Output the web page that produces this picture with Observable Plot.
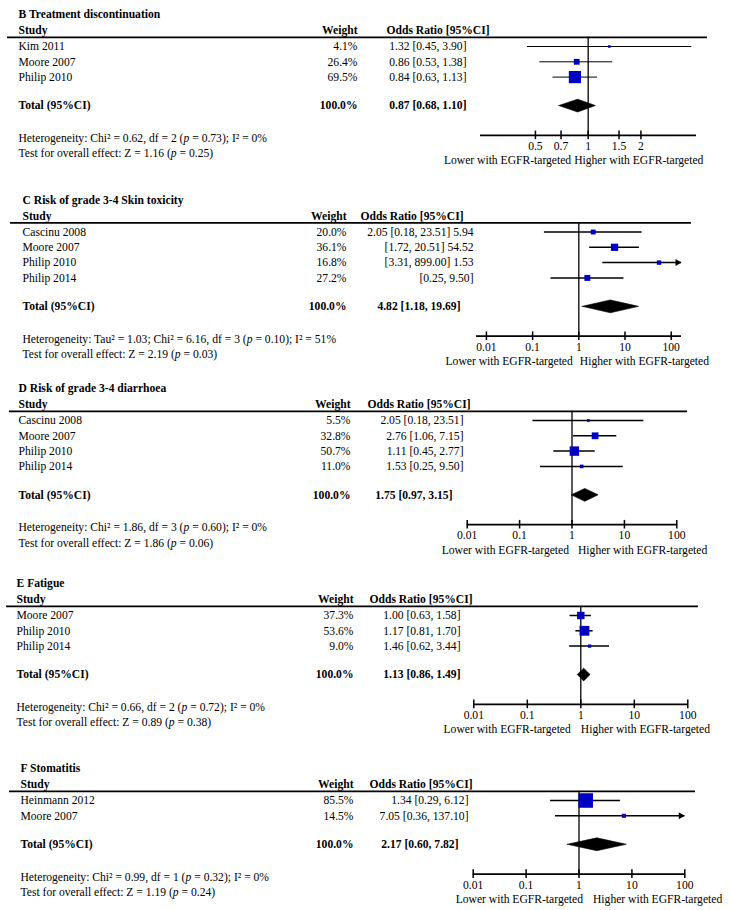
<!DOCTYPE html>
<html>
<head>
<meta charset="utf-8">
<script src="https://cdn.jsdelivr.net/npm/d3@7"></script>
<script src="https://cdn.jsdelivr.net/npm/@observablehq/plot@0.6"></script>
<style>
  html, body { margin: 0; padding: 0; background: #fff; }
  #chart { width: 729px; }
  #chart svg { display: block; }
</style>
</head>
<body>
<div id="chart"></div>
<script>
// ---------- Panel B ----------
const bTitle = "B Treatment discontinuation";
const bStudies = ["Kim 2011", "Moore 2007", "Philip 2010"];
const bWeights = [4.1, 26.4, 69.5];
const bOR = [1.32, 0.86, 0.84];
const bLo = [0.45, 0.53, 0.63];
const bHi = [3.90, 1.38, 1.13];
const bORText = ["1.32 [0.45, 3.90]", "0.86 [0.53, 1.38]", "0.84 [0.63, 1.13]"];
const bTotal = [0.87, 0.68, 1.10];
const bTotalText = "0.87 [0.68, 1.10]";
const bHet = "Heterogeneity: Chi\u00b2 = 0.62, df = 2 (p = 0.73); I\u00b2 = 0%";
const bTest = "Test for overall effect: Z = 1.16 (p = 0.25)";
const bTicks = [0.5, 0.7, 1, 1.5, 2];
const bTickLabels = ["0.5", "0.7", "1", "1.5", "2"];

// ---------- Panel C ----------
const cTitle = "C Risk of grade 3-4 Skin toxicity";
const cStudies = ["Cascinu 2008", "Moore 2007", "Philip 2010", "Philip 2014"];
const cWeights = [20.0, 36.1, 16.8, 27.2];
const cOR = [2.05, 5.94, 54.52, 1.53];
const cLo = [0.18, 1.72, 3.31, 0.25];
const cHi = [23.51, 20.51, 899.00, 9.50];
const cORText = ["2.05 [0.18, 23.51] 5.94", "[1.72, 20.51] 54.52", "[3.31, 899.00] 1.53", "[0.25, 9.50]"];
const cTotal = [4.82, 1.18, 19.69];
const cTotalText = "4.82 [1.18, 19.69]";
const cHet = "Heterogeneity: Tau\u00b2 = 1.03; Chi\u00b2 = 6.16, df = 3 (p = 0.10); I\u00b2 = 51%";
const cTest = "Test for overall effect: Z = 2.19 (p = 0.03)";
const cTicks = [0.01, 0.1, 1, 10, 100];
const cTickLabels = ["0.01", "0.1", "1", "10", "100"];

// ---------- Panel D ----------
const dTitle = "D Risk of grade 3-4 diarrhoea";
const dStudies = ["Cascinu 2008", "Moore 2007", "Philip 2010", "Philip 2014"];
const dWeights = [5.5, 32.8, 50.7, 11.0];
const dOR = [2.05, 2.76, 1.11, 1.53];
const dLo = [0.18, 1.06, 0.45, 0.25];
const dHi = [23.51, 7.15, 2.77, 9.50];
const dORText = ["2.05 [0.18, 23.51]", "2.76 [1.06, 7.15]", "1.11 [0.45, 2.77]", "1.53 [0.25, 9.50]"];
const dTotal = [1.75, 0.97, 3.15];
const dTotalText = "1.75 [0.97, 3.15]";
const dHet = "Heterogeneity: Chi\u00b2 = 1.86, df = 3 (p = 0.60); I\u00b2 = 0%";
const dTest = "Test for overall effect: Z = 1.86 (p = 0.06)";
const dTicks = [0.01, 0.1, 1, 10, 100];
const dTickLabels = ["0.01", "0.1", "1", "10", "100"];

// ---------- Panel E ----------
const eTitle = "E Fatigue";
const eStudies = ["Moore 2007", "Philip 2010", "Philip 2014"];
const eWeights = [37.3, 53.6, 9.0];
const eOR = [1.00, 1.17, 1.46];
const eLo = [0.63, 0.81, 0.62];
const eHi = [1.58, 1.70, 3.44];
const eORText = ["1.00 [0.63, 1.58]", "1.17 [0.81, 1.70]", "1.46 [0.62, 3.44]"];
const eTotal = [1.13, 0.86, 1.49];
const eTotalText = "1.13 [0.86, 1.49]";
const eHet = "Heterogeneity: Chi\u00b2 = 0.66, df = 2 (p = 0.72); I\u00b2 = 0%";
const eTest = "Test for overall effect: Z = 0.89 (p = 0.38)";
const eTicks = [0.01, 0.1, 1, 10, 100];
const eTickLabels = ["0.01", "0.1", "1", "10", "100"];

// ---------- Panel F ----------
const fTitle = "F Stomatitis";
const fStudies = ["Heinmann 2012", "Moore 2007"];
const fWeights = [85.5, 14.5];
const fOR = [1.34, 7.05];
const fLo = [0.29, 0.36];
const fHi = [6.12, 137.10];
const fORText = ["1.34 [0.29, 6.12]", "7.05 [0.36, 137.10]"];
const fTotal = [2.17, 0.60, 7.82];
const fTotalText = "2.17 [0.60, 7.82]";
const fHet = "Heterogeneity: Chi\u00b2 = 0.99, df = 1 (p = 0.32); I\u00b2 = 0%";
const fTest = "Test for overall effect: Z = 1.19 (p = 0.24)";
const fTicks = [0.01, 0.1, 1, 10, 100];
const fTickLabels = ["0.01", "0.1", "1", "10", "100"];

const lowerLabel = "Lower with EGFR-targeted";
const higherLabel = "Higher with EGFR-targeted";

// ---------- layout (pixels / styles only) ----------
const ROW = 15.3;
const FONT = "'Liberation Serif', 'Times New Roman', serif";
const FS = 11.6;
const SQUARE = "#0000c0";

const panels = [
  {title: bTitle, studies: bStudies, weights: bWeights, or: bOR, lo: bLo, hi: bHi, orText: bORText,
   total: bTotal, totalText: bTotalText, het: bHet, test: bTest, ticks: bTicks, tickLabels: bTickLabels,
   top: 0, height: 184, row0: 46, nameX: 18, lineX: [7, 707], wEnd: 357, orHead: 386, orEnd: 466, totEnd: 466,
   xDomain: [0.243, 4.15], xRange: [480, 696], ciW: 1, lowDx: -17, highDx: -14},
  {title: cTitle, studies: cStudies, weights: cWeights, or: cOR, lo: cLo, hi: cHi, orText: cORText,
   total: cTotal, totalText: cTotalText, het: cHet, test: cTest, ticks: cTicks, tickLabels: cTickLabels,
   top: 184, height: 190, row0: 231.5, nameX: 22, lineX: [10, 691], wEnd: 346, orHead: 360, orEnd: 473, totEnd: 460,
   xDomain: [0.0061, 167], xRange: [476, 681], ciW: 1.5, lowDx: -6, highDx: 1},
  {title: dTitle, studies: dStudies, weights: dWeights, or: dOR, lo: dLo, hi: dHi, orText: dORText,
   total: dTotal, totalText: dTotalText, het: dHet, test: dTest, ticks: dTicks, tickLabels: dTickLabels,
   top: 374, height: 192, row0: 420, nameX: 18, lineX: [9, 687], wEnd: 350, orHead: 367, orEnd: 463, totEnd: 452,
   xDomain: [0.01, 100], xRange: [466.7, 676.3], ciW: 1.5, lowDx: -3, highDx: 6},
  {title: eTitle, studies: eStudies, weights: eWeights, or: eOR, lo: eLo, hi: eHi, orText: eORText,
   total: eTotal, totalText: eTotalText, het: eHet, test: eTest, ticks: eTicks, tickLabels: eTickLabels,
   top: 566, height: 190, row0: 615, nameX: 16, lineX: [6, 698], wEnd: 353, orHead: 369, orEnd: 460, totEnd: 460,
   xDomain: [0.01, 100], xRange: [473.3, 687.3], ciW: 1.5, lowDx: -10, highDx: 0},
  {title: fTitle, studies: fStudies, weights: fWeights, or: fOR, lo: fLo, hi: fHi, orText: fORText,
   total: fTotal, totalText: fTotalText, het: fHet, test: fTest, ticks: fTicks, tickLabels: fTickLabels,
   top: 756, height: 154, row0: 800, nameX: 20, lineX: [9, 695], wEnd: 353, orHead: 369, orEnd: 468, totEnd: 458,
   xDomain: [0.01, 100], xRange: [472.7, 684.3], ciW: 1.5, lowDx: 4, highDx: 14}
];

function italicP(svg) {
  svg.querySelectorAll("text").forEach(t => {
    const s = t.textContent;
    if (t.children.length === 0 && s.includes("(p = ")) {
      const i = s.indexOf("(p = ");
      t.textContent = "";
      t.append(document.createTextNode(s.slice(0, i + 1)));
      const ts = document.createElementNS("http://www.w3.org/2000/svg", "tspan");
      ts.setAttribute("font-style", "italic");
      ts.textContent = "p";
      t.append(ts);
      t.append(document.createTextNode(s.slice(i + 2)));
    }
  });
}

function makePanel(cfg) {
  const n = cfg.studies.length;
  const rows = cfg.studies.map((s, i) => ({
    study: s, weight: cfg.weights[i], or: cfg.or[i], lo: cfg.lo[i], hi: cfg.hi[i],
    label: cfg.orText[i], row: i
  }));
  const [dmin, dmax] = cfg.xDomain;
  const tRow = n - 1 + 1.86;
  const aRow = tRow + 1.95;
  const L = {
    title: -2.1, header: -1.03, line: -0.6, total: tRow, axis: aRow,
    het: tRow + 2.15, test: tRow + 3.15, tickLab: aRow + 0.72, lower: aRow + 1.65
  };
  const y0 = cfg.row0 - cfg.top;
  const [tOr, tLo, tHi] = cfg.total;
  const diamond = [
    {x: tLo, y: tRow}, {x: tOr, y: tRow - 0.42}, {x: tHi, y: tRow},
    {x: tOr, y: tRow + 0.42}, {x: tLo, y: tRow}
  ];
  const txt = (value, row, dx, anchor, weight) =>
    Plot.text([value], {text: d => d, y: () => row, frameAnchor: "left", textAnchor: anchor,
      dx, fontSize: FS, fontWeight: weight || "normal", fill: "black"});

  const svg = Plot.plot({
    width: 729, height: cfg.height,
    marginLeft: 0, marginRight: 0, marginTop: 0, marginBottom: 0,
    x: {type: "log", domain: cfg.xDomain, range: cfg.xRange, axis: null},
    y: {type: "linear", domain: [0, 1], range: [y0, y0 + ROW], axis: null},
    r: {type: "linear", domain: [0, 100], range: [1.1, 9.4]},
    style: {fontFamily: FONT, fontSize: FS + "px", background: "white", color: "black", overflow: "visible"},
    marks: [
      // titles & headers
      txt(cfg.title, L.title, cfg.nameX, "start", "bold"),
      txt("Study", L.header, cfg.nameX, "start", "bold"),
      txt("Weight", L.header, cfg.wEnd, "end", "bold"),
      txt("Odds Ratio [95%CI]", L.header, cfg.orHead, "start", "bold"),
      Plot.ruleY([L.line], {y: d => d, insetLeft: cfg.lineX[0], insetRight: 729 - cfg.lineX[1],
        stroke: "black", strokeWidth: 1.8}),
      // study table
      Plot.text(rows, {y: "row", text: "study", frameAnchor: "left", textAnchor: "start", dx: cfg.nameX, fontSize: FS, fill: "black"}),
      Plot.text(rows, {y: "row", text: d => d.weight.toFixed(1) + "%", frameAnchor: "left", textAnchor: "end", dx: cfg.wEnd, fontSize: FS, fill: "black"}),
      Plot.text(rows, {y: "row", text: "label", frameAnchor: "left", textAnchor: "end", dx: cfg.orEnd, fontSize: FS, fill: "black"}),
      // total row
      txt("Total (95%CI)", L.total, cfg.nameX, "start", "bold"),
      txt("100.0%", L.total, cfg.wEnd, "end", "bold"),
      txt(cfg.totalText, L.total, cfg.totEnd, "end", "bold"),
      // footnotes
      txt(cfg.het, L.het, cfg.nameX, "start"),
      txt(cfg.test, L.test, cfg.nameX, "start"),
      // line of no effect
      Plot.ruleX([1], {x: d => d, y1: () => L.line, y2: () => L.axis, stroke: "black", strokeWidth: 1.3}),
      // confidence intervals
      Plot.ruleY(rows, {y: "row", x1: "lo", x2: d => Math.min(d.hi, dmax), stroke: "black", strokeWidth: cfg.ciW}),
      Plot.dot(rows.filter(d => d.hi > dmax), {x: () => dmax, y: "row", symbol: "triangle", rotate: 90,
        r: 2.6, fill: "black", stroke: "none", dx: -4}),
      Plot.dot(rows, {x: "or", y: "row", r: "weight", symbol: "square", fill: SQUARE, stroke: "none"}),
      // pooled diamond
      Plot.line(diamond, {x: "x", y: "y", fill: "black", stroke: "black", strokeWidth: 0.6}),
      // axis
      Plot.ruleY([L.axis], {y: d => d, x1: () => dmin, x2: () => dmax, stroke: "black", strokeWidth: 1.8}),
      Plot.ruleX(cfg.ticks, {x: d => d, y1: () => L.axis - 0.28, y2: () => L.axis + 0.28, stroke: "black", strokeWidth: 1.5}),
      Plot.text(cfg.ticks, {x: d => d, y: () => L.tickLab, text: (d, i) => cfg.tickLabels[i], fontSize: FS, fill: "black"}),
      Plot.text([1], {x: d => d, y: () => L.lower, text: () => lowerLabel, textAnchor: "end", dx: cfg.lowDx, fontSize: FS, fill: "black"}),
      Plot.text([1], {x: d => d, y: () => L.lower, text: () => higherLabel, textAnchor: "start", dx: cfg.highDx, fontSize: FS, fill: "black"})
    ]
  });
  italicP(svg);
  return svg;
}

const chart = document.getElementById("chart");
panels.forEach(p => chart.appendChild(makePanel(p)));
</script>
</body>
</html>
